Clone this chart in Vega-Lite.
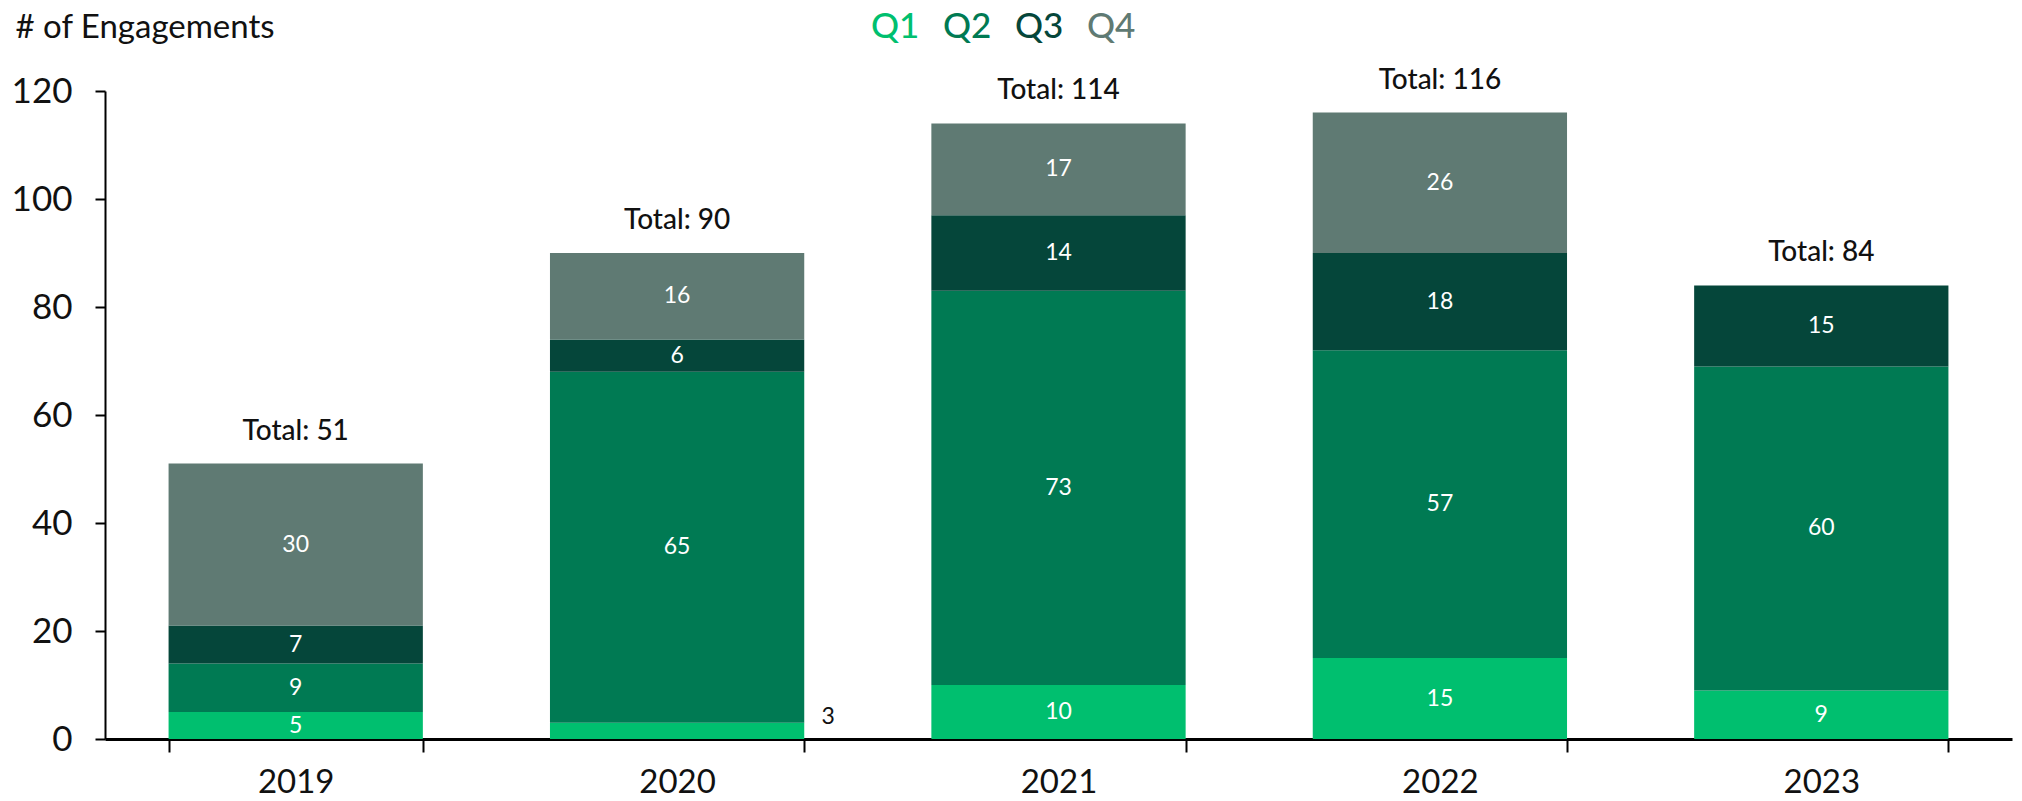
{
  "$schema": "https://vega.github.io/schema/vega-lite/v6.json",
  "width": 1907,
  "height": 648,
  "autosize": {"type": "none"},
  "padding": {"left": 105, "top": 91, "right": 10, "bottom": 62},
  "config": {"font": "Lato", "view": {"stroke": null}},
  "data": {"values": [
    {"year": "2019", "q": "Q1", "v": 5},
    {"year": "2019", "q": "Q2", "v": 9},
    {"year": "2019", "q": "Q3", "v": 7},
    {"year": "2019", "q": "Q4", "v": 30},
    {"year": "2020", "q": "Q1", "v": 3},
    {"year": "2020", "q": "Q2", "v": 65},
    {"year": "2020", "q": "Q3", "v": 6},
    {"year": "2020", "q": "Q4", "v": 16},
    {"year": "2021", "q": "Q1", "v": 10},
    {"year": "2021", "q": "Q2", "v": 73},
    {"year": "2021", "q": "Q3", "v": 14},
    {"year": "2021", "q": "Q4", "v": 17},
    {"year": "2022", "q": "Q1", "v": 15},
    {"year": "2022", "q": "Q2", "v": 57},
    {"year": "2022", "q": "Q3", "v": 18},
    {"year": "2022", "q": "Q4", "v": 26},
    {"year": "2023", "q": "Q1", "v": 9},
    {"year": "2023", "q": "Q2", "v": 60},
    {"year": "2023", "q": "Q3", "v": 15}
  ]},
  "transform": [
    {"stack": "v", "groupby": ["year"], "sort": [{"field": "q", "order": "ascending"}], "as": ["v0", "v1"]},
    {"calculate": "(datum.v0 + datum.v1) / 2", "as": "mid"}
  ],
  "encoding": {
    "x": {
      "field": "year", "type": "nominal", "title": null,
      "scale": {"paddingInner": 0.3333, "paddingOuter": 0.1667},
      "axis": {
        "labelAngle": 0, "labelFontSize": 33, "labelColor": "#111", "labelPadding": 14,
        "tickBand": "extent", "tickSize": 13, "tickWidth": 2, "tickColor": "#000",
        "domainColor": "#000", "domainWidth": 3
      }
    }
  },
  "layer": [
    {
      "mark": {"type": "bar"},
      "encoding": {
        "y": {
          "field": "v0", "type": "quantitative",
          "scale": {"domain": [0, 120], "nice": false},
          "axis": {
            "values": [0, 20, 40, 60, 80, 100, 120], "grid": false,
            "labelFontSize": 35, "labelColor": "#111", "labelPadding": 23,
            "tickSize": 10, "tickWidth": 2, "tickColor": "#000",
            "domainColor": "#000", "domainWidth": 2,
            "title": "# of Engagements", "titleAngle": 0, "titleAlign": "left",
            "titleBaseline": "alphabetic", "titleX": -90, "titleY": -54,
            "titleFontSize": 33, "titleFontWeight": "normal", "titleColor": "#111"
          }
        },
        "y2": {"field": "v1"},
        "color": {
          "field": "q", "type": "nominal", "title": null,
          "scale": {"domain": ["Q1", "Q2", "Q3", "Q4"], "range": ["#00BF6F", "#007A53", "#05463A", "#5F7A73"]},
          "legend": {
            "orient": "none", "direction": "horizontal", "legendX": 767, "legendY": -82,
            "symbolType": "square", "symbolSize": 1, "symbolStrokeWidth": 0, "symbolOpacity": 0, "labelOffset": -36,
            "columnPadding": 23, "labelFontSize": 35, "labelFontWeight": 500,
            "encode": {"labels": {"update": {"fill": {"scale": "color", "field": "value"}}}}
          }
        }
      }
    },
    {
      "transform": [{"filter": "datum.v >= 4"}],
      "mark": {"type": "text", "fontSize": 23, "color": "white", "baseline": "middle"},
      "encoding": {
        "y": {"field": "mid", "type": "quantitative"},
        "text": {"field": "v", "type": "quantitative"}
      }
    },
    {
      "transform": [{"filter": "datum.v < 4"}],
      "mark": {"type": "text", "fontSize": 23, "color": "#111", "baseline": "middle", "dx": 151, "dy": -14},
      "encoding": {
        "y": {"field": "mid", "type": "quantitative"},
        "text": {"field": "v", "type": "quantitative"}
      }
    },
    {
      "transform": [
        {"aggregate": [{"op": "sum", "field": "v", "as": "total"}], "groupby": ["year"]},
        {"calculate": "'Total: ' + datum.total", "as": "label"}
      ],
      "mark": {"type": "text", "fontSize": 28, "fontWeight": 500, "color": "#111", "baseline": "alphabetic", "dy": -24},
      "encoding": {
        "y": {"field": "total", "type": "quantitative"},
        "text": {"field": "label", "type": "nominal"}
      }
    }
  ]
}
